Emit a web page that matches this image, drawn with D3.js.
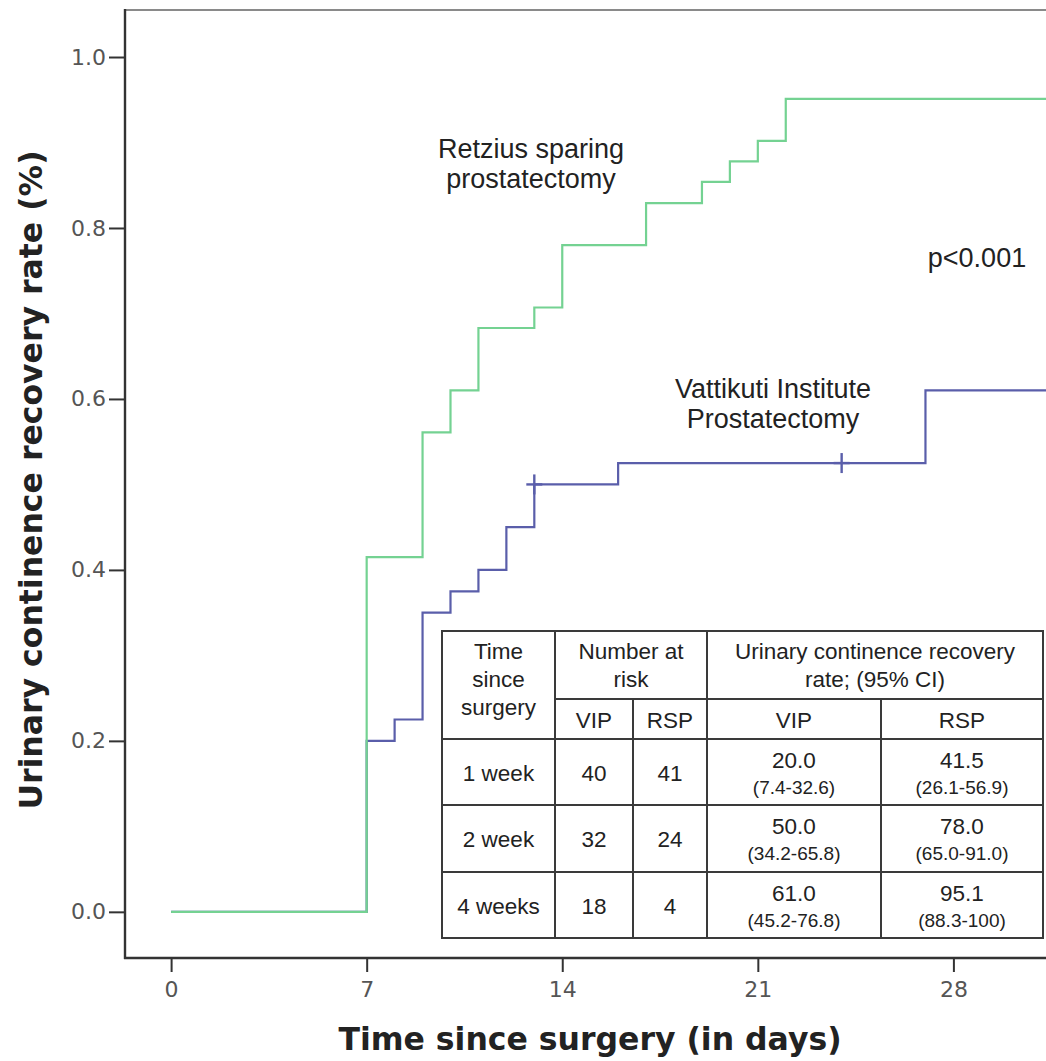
<!DOCTYPE html>
<html>
<head>
<meta charset="utf-8">
<script src="https://cdn.jsdelivr.net/npm/d3@7"></script>
<style>
  html, body { margin: 0; padding: 0; background: #fff; }
  svg { display: block; }
</style>
</head>
<body>
<svg id="chart" width="1046" height="1061"></svg>
<script>
// Kaplan-Meier curves of urinary continence recovery (event times in days, cumulative rate)
const vipTimes = [0, 7, 8, 9, 10, 11, 12, 13, 16, 27];
const vipRates = [0, 0.200, 0.225, 0.350, 0.375, 0.400, 0.450, 0.500, 0.525, 0.610];
const vipCensored = [13, 24];

const rspTimes = [0, 7, 9, 10, 11, 13, 14, 17, 19, 20, 21, 22];
const rspRates = [0, 0.415, 0.561, 0.610, 0.683, 0.707, 0.780, 0.829, 0.854, 0.878, 0.902, 0.951];

const followUpEnd = 33;

// Axis ticks
const xTicks = [0, 7, 14, 21, 28];
const yTicks = [0, 0.2, 0.4, 0.6, 0.8, 1.0];

// Inset table
const tableRows = ["1 week", "2 week", "4 weeks"];
const tableDays = [7, 14, 28];
const atRiskVIP = [40, 32, 18];
const atRiskRSP = [41, 24, 4];
const ciVIP = ["(7.4-32.6)", "(34.2-65.8)", "(45.2-76.8)"];
const ciRSP = ["(26.1-56.9)", "(65.0-91.0)", "(88.3-100)"];

const svg = d3.select("#chart");

const plot = { left: 125, top: 10, right: 1047, bottom: 958 };

const x = d3.scaleLinear().domain([-1.65, 31.35]).range([plot.left, plot.right]);
const y = d3.scaleLinear().domain([-0.054, 1.055]).range([plot.bottom, plot.top]);

// rate of a step curve at a given day
function rateAt(times, rates, day) {
  const i = d3.bisectRight(times, day) - 1;
  return rates[Math.max(0, i)];
}

svg.append("defs").append("clipPath").attr("id", "plot-clip")
  .append("rect")
  .attr("x", plot.left).attr("y", plot.top)
  .attr("width", plot.right - plot.left).attr("height", plot.bottom - plot.top);

// frame
svg.append("line")
  .attr("x1", plot.left).attr("x2", 1046)
  .attr("y1", plot.top).attr("y2", plot.top)
  .attr("stroke", "#8a8a8a").attr("stroke-width", 2);

// curves
const stepLine = d3.line()
  .x(d => x(d[0])).y(d => y(d[1]))
  .curve(d3.curveStepAfter);

function curvePoints(times, rates) {
  const pts = times.map((t, i) => [t, rates[i]]);
  pts.push([followUpEnd, rates[rates.length - 1]]);
  return pts;
}

const curves = svg.append("g").attr("clip-path", "url(#plot-clip)");

curves.append("path")
  .attr("d", stepLine(curvePoints(vipTimes, vipRates)))
  .attr("fill", "none").attr("stroke", "#5a5eaa").attr("stroke-width", 2.2);

curves.selectAll(".censor")
  .data(vipCensored)
  .join("g")
  .attr("class", "censor")
  .attr("transform", d => `translate(${x(d)},${y(rateAt(vipTimes, vipRates, d))})`)
  .each(function () {
    const g = d3.select(this);
    g.append("line").attr("x1", 0).attr("x2", 0).attr("y1", -10).attr("y2", 10);
    g.append("line").attr("x1", -8).attr("x2", 8).attr("y1", 0).attr("y2", 0);
  })
  .selectAll("line")
  .attr("stroke", "#5a5eaa").attr("stroke-width", 2.4);

curves.append("path")
  .attr("d", stepLine(curvePoints(rspTimes, rspRates)))
  .attr("fill", "none").attr("stroke", "#74d292").attr("stroke-width", 2.2);

// axes
const yAxis = svg.append("g")
  .attr("transform", `translate(${plot.left},0)`)
  .call(d3.axisLeft(y).tickValues(yTicks).tickFormat(d3.format(".1f")).tickSize(16).tickPadding(3));
const xAxis = svg.append("g")
  .attr("transform", `translate(0,${plot.bottom})`)
  .call(d3.axisBottom(x).tickValues(xTicks).tickSize(14).tickPadding(9));

[yAxis, xAxis].forEach(a => {
  a.select(".domain").remove();
  a.selectAll(".tick line").attr("stroke", "#333").attr("stroke-width", 2);
  a.selectAll(".tick text")
    .attr("font-family", "DejaVu Sans")
    .attr("font-size", 22)
    .attr("fill", "#555");
});

svg.append("line")
  .attr("x1", plot.left).attr("x2", plot.left)
  .attr("y1", plot.top - 1).attr("y2", plot.bottom + 1)
  .attr("stroke", "#333").attr("stroke-width", 2.4);
svg.append("line")
  .attr("x1", plot.left - 1).attr("x2", 1046)
  .attr("y1", plot.bottom).attr("y2", plot.bottom)
  .attr("stroke", "#333").attr("stroke-width", 2.4);

// axis titles
svg.append("text")
  .attr("transform", "rotate(-90)")
  .attr("x", -480).attr("y", 42)
  .attr("text-anchor", "middle")
  .attr("font-family", "DejaVu Sans").attr("font-weight", "bold")
  .attr("font-size", 31.5).attr("fill", "#222")
  .text("Urinary continence recovery rate (%)");

svg.append("text")
  .attr("x", 590).attr("y", 1050)
  .attr("text-anchor", "middle")
  .attr("font-family", "DejaVu Sans").attr("font-weight", "bold")
  .attr("font-size", 31.5).attr("fill", "#222")
  .text("Time since surgery (in days)");

// curve labels and test result
const note = (tx, ty, lines) => {
  const t = svg.append("text")
    .attr("text-anchor", "middle")
    .attr("font-family", "Liberation Sans, Arial, sans-serif")
    .attr("font-size", 27).attr("fill", "#222");
  lines.forEach((s, i) => t.append("tspan").attr("x", tx).attr("y", ty + i * 30).text(s));
};
note(531, 158, ["Retzius sparing", "prostatectomy"]);
note(773, 398, ["Vattikuti Institute", "Prostatectomy"]);
note(977, 267, ["p<0.001"]);

// inset table
const colX = [442, 555, 633, 707, 881, 1043];
const rowY = [631, 699, 739, 805, 872, 938];
const tbl = svg.append("g");
tbl.append("rect")
  .attr("x", colX[0]).attr("y", rowY[0])
  .attr("width", colX[5] - colX[0]).attr("height", rowY[5] - rowY[0])
  .attr("fill", "#fff");

const rule = (x1, y1, x2, y2) => tbl.append("line")
  .attr("x1", x1).attr("y1", y1).attr("x2", x2).attr("y2", y2)
  .attr("stroke", "#3a3a3a").attr("stroke-width", 2)
  .attr("stroke-linecap", "square");

[0, 2, 3, 4, 5].forEach(i => rule(colX[0], rowY[i], colX[5], rowY[i]));
rule(colX[1], rowY[1], colX[5], rowY[1]);
[0, 1, 3, 5].forEach(i => rule(colX[i], rowY[0], colX[i], rowY[5]));
[2, 4].forEach(i => rule(colX[i], rowY[1], colX[i], rowY[5]));

const cellText = (cx, cy, s, size) => tbl.append("text")
  .attr("x", cx).attr("y", cy)
  .attr("text-anchor", "middle")
  .attr("font-family", "Liberation Sans, Arial, sans-serif")
  .attr("font-size", size).attr("fill", "#222")
  .text(s);

const mid = (a, b) => (colX[a] + colX[b]) / 2;

["Time", "since", "surgery"].forEach((s, i) => cellText(mid(0, 1), 659 + i * 28, s, 22.5));
["Number at", "risk"].forEach((s, i) => cellText(mid(1, 3), 659 + i * 28, s, 22.5));
["Urinary continence recovery", "rate; (95% CI)"].forEach((s, i) => cellText(mid(3, 5), 659 + i * 28, s, 22.5));
[["VIP", 1], ["RSP", 2], ["VIP", 3], ["RSP", 4]].forEach(([s, c]) => cellText(mid(c, c + 1), 728, s, 22.5));

const pct = d3.format(".1f");
tableRows.forEach((label, r) => {
  const top = rowY[r + 2];
  const day = tableDays[r];
  cellText(mid(0, 1), top + 42, label, 22.5);
  cellText(mid(1, 2), top + 42, atRiskVIP[r], 22.5);
  cellText(mid(2, 3), top + 42, atRiskRSP[r], 22.5);
  cellText(mid(3, 4), top + 29, pct(rateAt(vipTimes, vipRates, day) * 100), 22.5);
  cellText(mid(3, 4), top + 55, ciVIP[r], 19);
  cellText(mid(4, 5), top + 29, pct(rateAt(rspTimes, rspRates, day) * 100), 22.5);
  cellText(mid(4, 5), top + 55, ciRSP[r], 19);
});
</script>
</body>
</html>
